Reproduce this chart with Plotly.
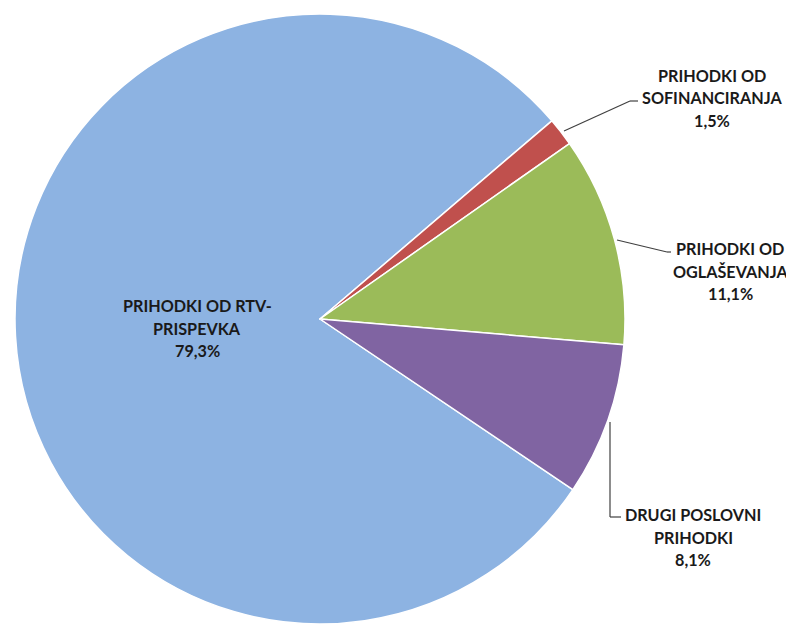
import plotly.graph_objects as go

# Data
label_lines = [
    ["PRIHODKI OD RTV-", "PRISPEVKA"],
    ["PRIHODKI OD", "SOFINANCIRANJA"],
    ["PRIHODKI OD", "OGLAŠEVANJA"],
    ["DRUGI POSLOVNI", "PRIHODKI"],
]
labels = [" ".join(l) for l in label_lines]
values = [79.3, 1.5, 11.1, 8.1]
colors = ["#8DB3E2", "#C0504D", "#9BBB59", "#8064A2"]

OFF = 8  # page body margin offset
W, H = 794 - OFF, 626 - OFF

def px(x, y):
    return (x - OFF) / W, 1 - (y - OFF) / H

def fmt(v):
    return f"{v:.1f}".replace(".", ",") + "%"

x0d, x1d = px(15, 0)[0], px(625, 0)[0]
y1d, y0d = px(0, 14)[1], px(0, 624)[1]

fig = go.Figure(go.Pie(
    labels=labels,
    values=values,
    sort=False,
    direction="clockwise",
    rotation=124,
    marker=dict(colors=colors, line=dict(color="white", width=1.5)),
    textinfo="none",
    hoverinfo="label+percent",
    showlegend=False,
    domain=dict(x=[x0d, x1d], y=[y0d, y1d]),
))

font = dict(family="Lato", size=16.2, color="#1a1a1a")
LS = 22.5

# label centre positions (middle line), pixels
label_pos = [(197, 328), (712, 98), (730, 271), (693, 537)]
for lines, v, (x, y) in zip(label_lines, values, label_pos):
    all_lines = lines + [fmt(v)]
    n = len(all_lines)
    for i, t in enumerate(all_lines):
        ax, ay = px(x, y + (i - (n - 1) / 2) * LS)
        fig.add_annotation(
            x=ax, y=ay, xref="paper", yref="paper",
            text=f"<b>{t}</b>", showarrow=False,
            font=font, align="center", xanchor="center", yanchor="middle",
        )

# leader lines
leaders = [
    [(564, 131), (630, 101), (638, 101)],
    [(617, 240), (667, 252), (671, 252)],
    [(610, 422), (610, 517), (621, 517)],
]
for pts in leaders:
    for (xa, ya), (xb, yb) in zip(pts[:-1], pts[1:]):
        a0, b0 = px(xa, ya)
        a1, b1 = px(xb, yb)
        fig.add_shape(type="line", xref="paper", yref="paper",
                      x0=a0, y0=b0, x1=a1, y1=b1,
                      line=dict(color="#404040", width=1.2))

fig.update_layout(
    width=W, height=H,
    margin=dict(l=0, r=0, t=0, b=0),
    paper_bgcolor="white",
    plot_bgcolor="white",
)

fig.write_html("out.html")
